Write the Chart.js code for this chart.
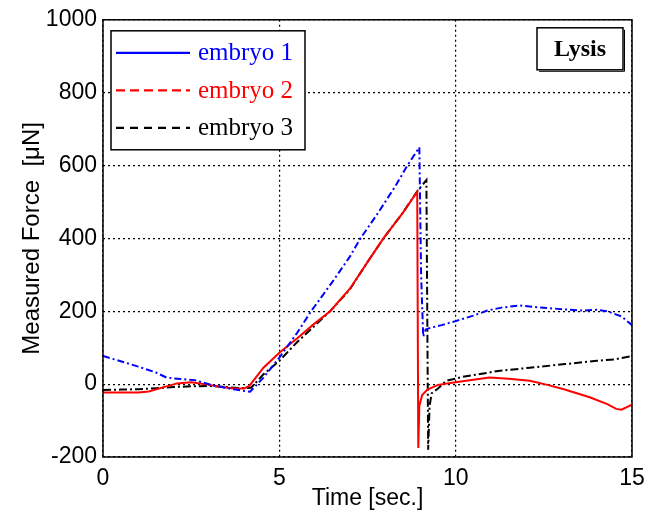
<html>
<head>
	<title>Lysis</title>
	<script src="https://cdn.jsdelivr.net/npm/chart.js"></script>
	<style>
		body { margin: 0; background: #fff; }
		#wrap { width: 658px; height: 519px; }
	</style>
</head>
<body>
	<div id="wrap"><canvas id="lysis" width="658" height="519"></canvas></div>
</body>
<script>
    // embryo 1
    const t1 = [0, 0.5, 1, 1.5, 1.8, 2.2, 2.6, 3.1, 3.7, 4.17, 4.55, 5, 5.5, 5.9, 6.5, 7, 7.3, 7.8, 8.3, 8.63, 8.97, 9.02, 9.08, 9.15, 9.3, 9.6, 10, 10.5, 10.9, 11.3, 11.8, 12.2, 12.6, 13.1, 13.6, 14, 14.3, 14.7, 15];
    const f1 = [77, 63, 48, 32, 18, 14, 11, -3, -14, -21, 18, 73, 140, 200, 280, 350, 400, 470, 545, 600, 650, 300, 130, 150, 155, 162, 173, 188, 202, 210, 216, 212, 209, 205, 202, 204, 200, 186, 162];
    // embryo 2
    const t2 = [0, 0.5, 1, 1.3, 1.7, 2.1, 2.5, 2.9, 3.3, 3.7, 4.0, 4.15, 4.55, 5, 5.5, 5.97, 6.44, 7, 7.5, 7.95, 8.5, 8.91, 8.94, 8.97, 9.05, 9.2, 9.5, 10, 10.5, 10.96, 11.5, 12.1, 12.6, 13.07, 13.8, 14.3, 14.55, 14.7, 15];
    const f2 = [-23, -23, -23, -20, -9, 2, 5, 0, -7, -12, -12, -5, 45, 86, 125, 164, 200, 262, 335, 400, 470, 528, -175, -60, -30, -15, -2, 5, 12, 18, 15, 9, -2, -14, -36, -55, -68, -70, -56];
    // embryo 3
    const t3 = [0, 0.5, 1, 1.5, 2, 2.5, 3, 3.5, 3.9, 4.2, 4.55, 5, 5.5, 6, 6.44, 7, 7.5, 7.95, 8.5, 8.9, 9.0, 9.17, 9.22, 9.26, 9.32, 9.5, 9.73, 10.2, 11.2, 12.1, 13.1, 14.0, 14.5, 15];
    const f3 = [-16, -15, -14, -11, -8, -6, -5, -8, -11, -10, 27, 64, 115, 160, 200, 260, 335, 400, 470, 528, 540, 560, -180, -60, -25, -12, 9, 20, 36, 45, 55, 64, 68, 77];

    const names = ['embryo 1', 'embryo 2', 'embryo 3'];
    const xTicks = [0, 5, 10, 15];
    const yTicks = [-200, 0, 200, 400, 600, 800, 1000];

    const colors = ['#0000ff', '#ff0000', '#000000'];
    const plotDash = [[7, 3, 2, 3], [], [8, 3, 2, 3]];
    const legendDash = [[], [9, 5], [8, 6]];

    const toPoints = (ts, fs) => ts.map((t, i) => ({ x: t, y: fs[i] }));

    const series = [toPoints(t1, f1), toPoints(t2, f2), toPoints(t3, f3)];

    const boxes = {
        id: 'boxes',
        afterDatasetsDraw(chart) {
            const { ctx, chartArea: a } = chart;
            ctx.save();
            ctx.strokeStyle = '#000';
            ctx.lineWidth = 1.5;
            ctx.setLineDash([]);
            ctx.strokeRect(a.left, a.top, a.right - a.left, a.bottom - a.top);

            // legend box
            const lx = a.left + 8, ly = a.top + 11, lw = 194, lh = 119;
            ctx.fillStyle = '#fff';
            ctx.fillRect(lx, ly, lw, lh);
            ctx.strokeRect(lx, ly, lw, lh);
            ctx.font = '25px "Liberation Serif", serif';
            ctx.textBaseline = 'middle';
            names.forEach((name, i) => {
                const y = ly + 22 + i * 37.5;
                ctx.strokeStyle = colors[i];
                ctx.lineWidth = 2.2;
                ctx.setLineDash(legendDash[i]);
                ctx.beginPath();
                ctx.moveTo(lx + 5, y);
                ctx.lineTo(lx + 79, y);
                ctx.stroke();
                ctx.fillStyle = colors[i];
                ctx.fillText(name, lx + 87, y + 1);
            });

            // Lysis box
            ctx.setLineDash([]);
            ctx.strokeStyle = '#000';
            ctx.lineWidth = 1.5;
            const bx = a.right - 95, by = a.top + 8, bw = 86, bh = 42;
            ctx.fillStyle = '#fff';
            ctx.fillRect(bx, by, bw, bh);
            ctx.strokeRect(bx, by, bw, bh);
            ctx.lineWidth = 1;
            ctx.beginPath();
            ctx.moveTo(bx + 2, by + bh + 1.5);
            ctx.lineTo(bx + bw + 1.5, by + bh + 1.5);
            ctx.lineTo(bx + bw + 1.5, by + 2);
            ctx.stroke();
            ctx.fillStyle = '#000';
            ctx.font = 'bold 24px "Liberation Serif", serif';
            ctx.textAlign = 'center';
            ctx.fillText('Lysis', bx + bw / 2, by + bh / 2 + 1);
            ctx.restore();
        }
    };

    const chart = new Chart(document.getElementById('lysis'), {
        type: 'line',
        data: {
            datasets: series.map((pts, i) => ({
                label: names[i],
                data: pts,
                borderColor: colors[i],
                borderWidth: 2,
                borderDash: plotDash[i],
                pointRadius: 0,
                tension: 0,
                fill: false
            }))
        },
        options: {
            responsive: false,
            animation: false,
            layout: { padding: { top: 17, right: 26, left: 0, bottom: 0 } },
            plugins: {
                legend: { display: false },
                tooltip: { enabled: false }
            },
            scales: {
                x: {
                    type: 'linear',
                    min: 0,
                    max: 15,
                    afterBuildTicks: (s) => { s.ticks = xTicks.map(v => ({ value: v })); },
                    afterFit: (s) => { s.height = 62; },
                    grid: { color: '#000', lineWidth: 1.2, drawTicks: false },
                    border: { display: false, dash: [2, 3] },
                    ticks: { color: '#000', padding: 8, callback: v => String(v), font: { family: '"Liberation Sans", Arial', size: 23 } },
                    title: {
                        display: true,
                        text: 'Time [sec.]',
                        color: '#000',
                        padding: { top: 2, bottom: 7 },
                        font: { family: '"Liberation Sans", Arial', size: 23 }
                    }
                },
                y: {
                    min: -200,
                    max: 1000,
                    afterBuildTicks: (s) => { s.ticks = yTicks.map(v => ({ value: v })); },
                    afterFit: (s) => { s.width = 103; },
                    grid: { color: '#000', lineWidth: 1.2, drawTicks: false },
                    border: { display: false, dash: [2, 3] },
                    ticks: { color: '#000', padding: 6, callback: v => String(v), font: { family: '"Liberation Sans", Arial', size: 23 } },
                    title: {
                        display: true,
                        text: 'Measured Force  [\u03bcN]',
                        color: '#000',
                        padding: { top: 18, bottom: 0 },
                        font: { family: '"Liberation Sans", Arial', size: 24 }
                    }
                }
            }
        },
        plugins: [boxes]
    });
</script>
</html>
